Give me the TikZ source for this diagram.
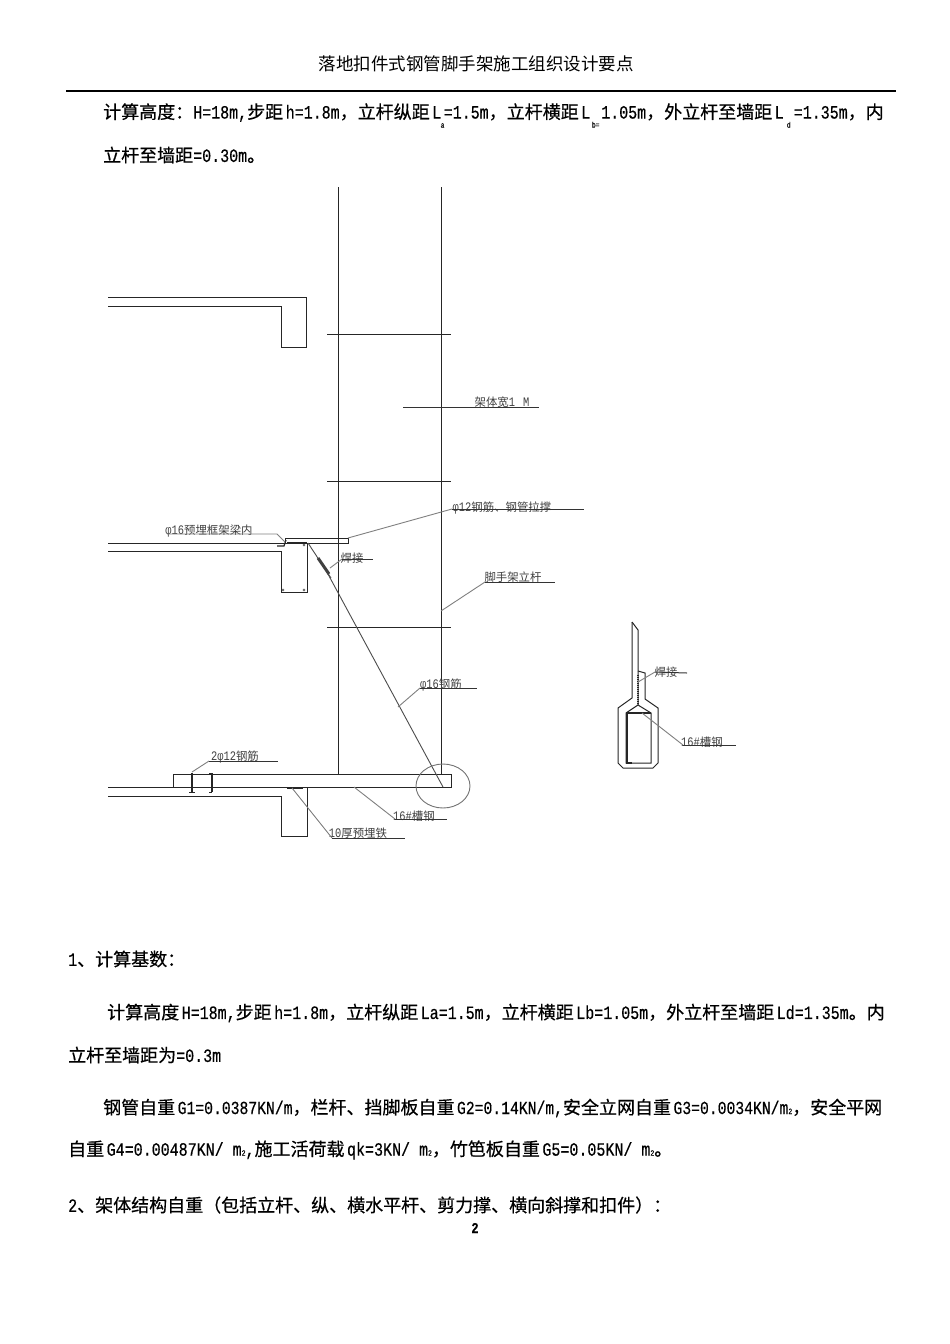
\documentclass[tikz,border=0pt]{standalone}
\usepackage{fontspec}
\setmainfont[FakeStretch=0.8,FakeBold=0.4]{Liberation Mono}
\newfontfamily\tagmono[FakeStretch=0.8]{Liberation Mono}
\newfontfamily\cjkbody[FakeBold=0.5]{Noto Sans CJK SC}
\newfontfamily\cjklight{Noto Sans CJK SC}
\newcommand{\zh}[1]{{\cjkbody\fontsize{18}{20}\selectfont #1}}
\newcommand{\titlezh}[1]{{\cjklight\fontsize{17.5}{20}\selectfont #1}}
\newcommand{\lz}[1]{{\cjklight\fontsize{11.4}{13}\selectfont #1}}
\newcommand{\lnum}[1]{{\tagmono\fontsize{13}{13}\selectfont #1}}
\newcommand{\subL}[2]{L\makebox[#1pt]{\raisebox{-9pt}{\fontsize{8}{8}\selectfont #2}}}
\newcommand{\sqm}{m{\fontsize{8}{8}\selectfont 2}}
\newcommand{\gp}{\hspace{2.5pt}}
\newcommand{\qcomma}{\char"FF0C\relax}
\newcommand{\qcolon}{\char"FF1A\relax}
\newcommand{\qlp}{\char"FF08\relax}
\newcommand{\qrp}{\char"FF09\relax}
\newcommand{\bodysize}{\fontsize{18.75}{20}\selectfont}
\tikzset{
	bodytext/.style={anchor=west,inner sep=0pt,font=\bodysize},
	tag/.style={inner sep=0pt,text=black!75},
	pole/.style={line width=1pt,draw=black!85},
	leader/.style={line width=0.9pt,draw=black!50},
	under/.style={line width=1pt,draw=black!80}
}

\begin{document}
\begin{tikzpicture}[x=1pt,y=-1pt]
	\useasboundingbox[fill=white] (0,0) rectangle (950,1344);

	\node[inner sep=0pt] (title) at (476,64) {\titlezh{落地扣件式钢管脚手架施工组织设计要点}};
	\draw[line width=1.5pt] (66,91) -- (896,91);

	\node[bodytext] (line1) at (103,115.5) {\zh{计算高度\qcolon}H=18m,\zh{步距}\gp h=1.8m\zh{\qcomma 立杆纵距}\gp\subL{2.5}{a}=1.5m\zh{\qcomma 立杆横距}\gp\subL{11}{b=}1.05m\zh{\qcomma 外立杆至墙距}\gp\subL{10}{d}=1.35m\zh{\qcomma 内}};
	\node[bodytext] (line2) at (103,155) {\zh{立杆至墙距}=0.30m\zh{。}};
	\node[bodytext] (line3) at (68,959) {1\zh{、计算基数\qcolon}};
	\node[bodytext] (line4) at (107,1013) {\zh{计算高度}\gp H=18m,\zh{步距}\gp h=1.8m\zh{\qcomma 立杆纵距}\gp La=1.5m\zh{\qcomma 立杆横距}\gp Lb=1.05m\zh{\qcomma 外立杆至墙距}\gp Ld=1.35m\zh{。内}};
	\node[bodytext] (line5) at (68,1055) {\zh{立杆至墙距为}=0.3m};
	\node[bodytext,font=\fontsize{18.4}{20}\selectfont] (line6) at (103,1108) {\zh{钢管自重}\gp G1=0.0387KN/m\zh{\qcomma 栏杆、挡脚板自重}\gp G2=0.14KN/m,\zh{安全立网自重}\gp G3=0.0034KN/\sqm\zh{\qcomma 安全平网}};
	\node[bodytext] (line7) at (68,1150) {\zh{自重}\gp G4=0.00487KN/ \sqm,\zh{施工活荷载}\gp qk=3KN/ \sqm\zh{\qcomma 竹笆板自重}\gp G5=0.05KN/ \sqm\zh{。}};
	\node[bodytext] (line8) at (68,1205) {2\zh{、架体结构自重\qlp 包括立杆、纵、横水平杆、剪力撑、横向斜撑和扣件\qrp\qcolon}};
	\node[inner sep=0pt,font=\bfseries\fontsize{15}{16}\selectfont] (pageno) at (475,1228) {2};

	\begin{scope}
		\tikzstyle{every path}=[pole]
		\draw (338,187) -- (338,775);
		\draw (441,187) -- (441,775);
		\draw (327,334) -- (451,334);
		\draw (327,481) -- (451,481);
		\draw (327,627) -- (451,627);

		\draw (108,297) -- (306,297) -- (306,347) -- (281,347) -- (281,306) -- (108,306);

		\draw (108,543) -- (285,543);
		\draw (108,551) -- (281,551) -- (281,592) -- (307,592) -- (307,543);
		\draw (285,543) rectangle (348,538);
		\draw[line width=1.6pt] (287,543) -- (307,543);
		\draw[line width=1.2pt] (277,546) -- (284,546) -- (286,540);
		\draw[line width=0.4pt] (283,590) circle (1.2) (304,590) circle (1.2) (304,545) circle (1.2);

		\draw (108,787) -- (451,787) -- (451,774) -- (173,774) -- (173,787);
		\draw (108,796) -- (281,796) -- (281,836) -- (307,836) -- (307,787);
		\draw[line width=2pt] (287,788) -- (303,788);
		\draw[line width=1.6pt] (192,773) -- (192,792);
		\draw[line width=1pt] (189,792) -- (195,792);
		\draw[line width=1.6pt] (212,773) -- (212,792);
		\draw[line width=1pt] (209,773) -- (212,773) (209,792) -- (212,792);

		\draw (632,622) -- (638,630) -- (638,705);
		\draw (632,622) -- (632,698) -- (618,708) -- (618,763) -- (623,768) -- (653,768) -- (658,763) -- (658,708) -- (645,699) -- (645,673) -- (638,671);
		\draw (626,713) -- (638,705) -- (651,713) -- (651,763) -- (626,763) -- cycle;
		\draw[line width=1.5pt] (651,713) -- (627,713) -- (627,763) -- (632,763);
		\draw[densely dotted,line width=1.5pt] (638,675) -- (638,705);
	\end{scope}

	\draw[line width=0.9pt,black!70] (308,543) -- (331,578);
	\draw[line width=0.9pt,black!70] (322,563) -- (443,787);
	\draw[line width=3pt,black!75] (318,558) -- (329,574);
	\draw[draw=black!55,line width=0.9pt] (443,786) ellipse (27 and 22);

	\node[tag] (widthtag) at (502,402) {\lz{架体宽}\lnum{1\hspace{8pt}M}};
	\node[tag] (tietag) at (502,508) {\lnum{φ12}\lz{钢筋、钢管拉撑}};
	\node[tag] (beamtag) at (209,531) {\lnum{φ16}\lz{预埋框架梁内}};
	\node[tag] (weldtag) at (352,558) {\lz{焊接}};
	\node[tag] (poletag) at (513,577) {\lz{脚手架立杆}};
	\node[tag] (rodtag) at (441,685) {\lnum{φ16}\lz{钢筋}};
	\node[tag] (bartag) at (235,757) {\lnum{2φ12}\lz{钢筋}};
	\node[tag] (chantag) at (414,816) {\lnum{16\#}\lz{槽钢}};
	\node[tag] (platetag) at (358,833) {\lnum{10}\lz{厚预埋铁}};
	\node[tag] (sweldtag) at (666,672) {\lz{焊接}};
	\node[tag] (schantag) at (702,742) {\lnum{16\#}\lz{槽钢}};

	\coordinate (w1) at (403,407);
	\coordinate (w2) at (539,407);
	\draw[under] (w1) -- (w2);

	\coordinate (t0) at (348,538);
	\coordinate (t1) at (452,509);
	\coordinate (t2) at (584,509);
	\draw[leader] (t0) -- (t1);
	\draw[under] (t1) -- (t2);

	\coordinate (b0) at (285,542);
	\coordinate (b1) at (277,534);
	\coordinate (b2) at (167,534);
	\draw[leader] (b0) -- (b1) -- (b2);

	\coordinate (j0) at (330,568);
	\coordinate (j1) at (342,559);
	\coordinate (j2) at (373,559);
	\draw[leader] (j0) -- (j1);
	\draw[under] (j1) -- (j2);

	\coordinate (p0) at (441,611);
	\coordinate (p1) at (485,582);
	\coordinate (p2) at (555,582);
	\draw[leader] (p0) -- (p1);
	\draw[under] (p1) -- (p2);

	\coordinate (r0) at (398,707);
	\coordinate (r1) at (420,688);
	\coordinate (r2) at (477,688);
	\draw[leader] (r0) -- (r1);
	\draw[under] (r1) -- (r2);

	\coordinate (a0) at (192,772);
	\coordinate (a1) at (209,761);
	\coordinate (a2) at (278,761);
	\draw[leader] (a0) -- (a1);
	\draw[under] (a1) -- (a2);

	\coordinate (c0) at (354,787);
	\coordinate (c1) at (395,819);
	\coordinate (c2) at (447,819);
	\draw[leader] (c0) -- (c1);
	\draw[under] (c1) -- (c2);

	\coordinate (d0) at (292,788);
	\coordinate (d1) at (332,838);
	\coordinate (d2) at (405,838);
	\draw[leader] (d0) -- (d1);
	\draw[under] (d1) -- (d2);

	\coordinate (e0) at (638,682);
	\coordinate (e1) at (655,672);
	\coordinate (e2) at (687,673);
	\draw[leader] (e0) -- (e1);
	\draw[under] (e1) -- (e2);

	\coordinate (f0) at (642,713);
	\coordinate (f1) at (683,745);
	\coordinate (f2) at (736,745);
	\draw[leader] (f0) -- (f1);
	\draw[under] (f1) -- (f2);
\end{tikzpicture}
\end{document}
